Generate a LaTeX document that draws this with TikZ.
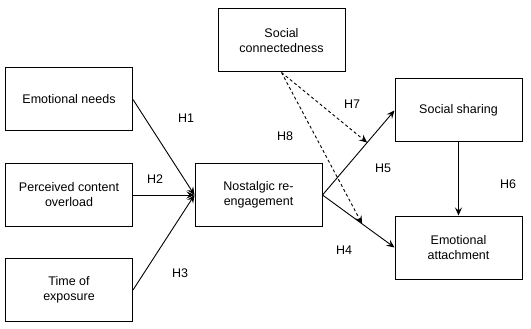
\documentclass[tikz,border=0pt]{standalone}
\usepackage{fontspec}
\setmainfont{Liberation Sans}
\usetikzlibrary{arrows.meta,calc}
\begin{document}
\begin{tikzpicture}[x=1pt,y=-1pt,
  box/.style={draw,line width=1pt,rectangle,minimum width=127pt,minimum height=63pt,align=center,inner sep=2pt,font=\fontsize{12.5}{15}\selectfont},
  lbl/.style={font=\fontsize{12.5}{15}\selectfont,inner sep=0pt},
  arr/.style={line width=0.9pt,-{Stealth[length=8pt,width=7pt,inset=3pt]}},
  darr/.style={arr,dashed,dash pattern=on 3pt off 2.5pt}]
\useasboundingbox (0,0) rectangle (531,329);
\node[box] (en) at (69,99.5) {Emotional needs};
\node[box] (pc) at (69,195) {Perceived content\\overload};
\node[box] (te) at (69,290) {Time of\\exposure};
\node[box] (nr) at (258.5,195) {Nostalgic re-\\engagement};
\node[box] (sc) at (281.5,40.5) {Social\\connectedness};
\node[box] (ss) at (458.5,110.5) {Social sharing};
\node[box] (ea) at (458.5,247.5) {Emotional\\attachment};
\draw[arr] (en.east) -- (nr.west);
\draw[arr] (pc.east) -- (nr.west);
\draw[arr] (te.east) -- (nr.west);
\draw[arr] (nr.east) -- (ss.west);
\draw[arr] (nr.east) -- (ea.west);
\draw[arr] (ss.south) -- (ea.north);
\coordinate (m1) at ($(nr.east)!0.62!(ss.west)$);
\coordinate (m2) at ($(nr.east)!0.55!(ea.west)$);
\draw[darr] (sc.south) -- (m1);
\draw[darr] (sc.south) -- (m2);
\node[lbl] (h1) at (186,118) {H1};
\node[lbl] (h2) at (155,179) {H2};
\node[lbl] (h3) at (180,273) {H3};
\node[lbl] (h4) at (344,250) {H4};
\node[lbl] (h5) at (383,168) {H5};
\node[lbl] (h6) at (508,184) {H6};
\node[lbl] (h7) at (352,104) {H7};
\node[lbl] (h8) at (285,136) {H8};
\end{tikzpicture}
\end{document}
